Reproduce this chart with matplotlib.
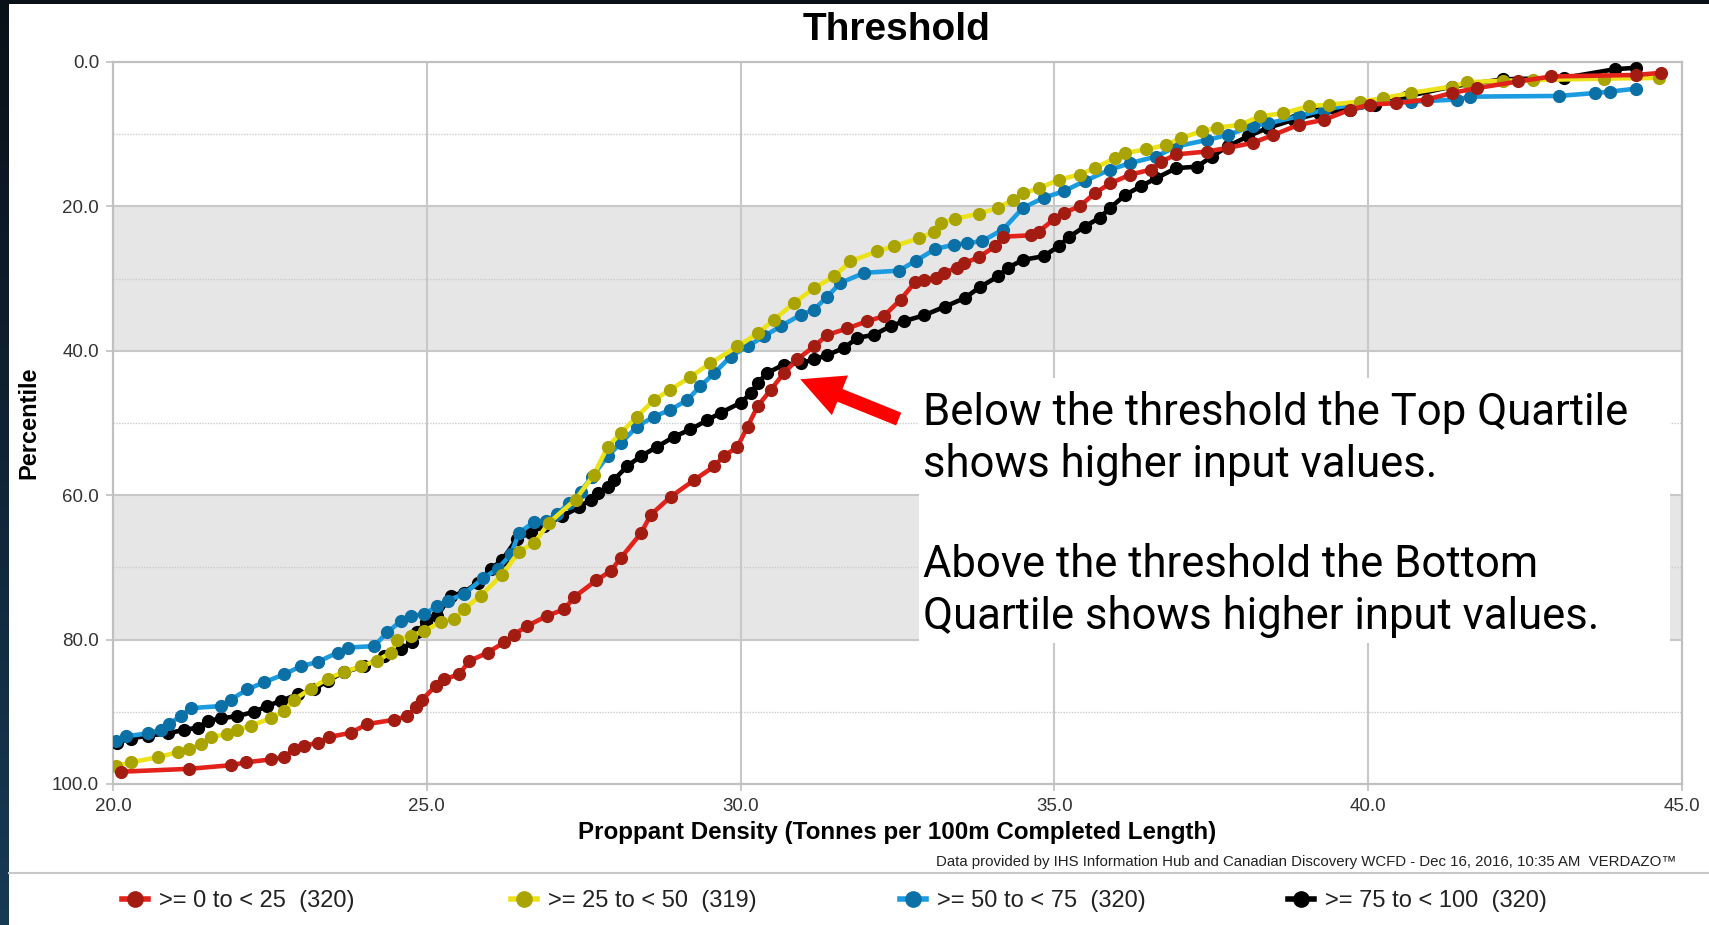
import numpy as np
import matplotlib
matplotlib.use('Agg')
import matplotlib.pyplot as plt
from matplotlib.lines import Line2D
from matplotlib.patches import Rectangle
from matplotlib.colors import LinearSegmentedColormap
from matplotlib.ticker import FormatStrFormatter, MultipleLocator

plt.rcParams['font.family'] = ['Liberation Sans', 'DejaVu Sans']

# Percentile curves (x = proppant density, y = percentile)
red_x = [20.12, 21.21, 21.88, 22.12, 22.51, 22.73, 22.89, 23.05, 23.26, 23.44, 23.79, 24.05,
         24.48, 24.69, 24.82, 24.93, 25.14, 25.28, 25.52, 25.67, 25.97, 26.23, 26.39, 26.60,
         26.92, 27.19, 27.35, 27.70, 27.93, 28.09, 28.41, 28.57, 28.89, 29.26, 29.58, 29.73,
         29.95, 30.11, 30.27, 30.48, 30.69, 30.90, 31.17, 31.38, 31.70, 32.02, 32.28, 32.55,
         32.78, 32.92, 33.12, 33.24, 33.45, 33.56, 33.80, 34.06, 34.18, 34.63, 34.75, 34.99,
         35.15, 35.40, 35.64, 35.89, 36.21, 36.54, 36.70, 36.94, 37.43, 37.76, 38.16, 38.49,
         38.89, 39.30, 39.71, 40.03, 40.44, 40.93, 41.33, 41.74, 42.39, 42.92, 44.26, 44.67]
red_y = [98.3, 97.9, 97.4, 97.0, 96.6, 96.3, 95.1, 94.7, 94.3, 93.5, 92.9, 91.7,
         91.1, 90.6, 89.4, 88.3, 86.4, 85.5, 84.8, 83.0, 81.8, 80.4, 79.3, 78.1,
         76.7, 75.8, 74.1, 71.8, 70.5, 68.7, 65.3, 62.7, 60.2, 57.9, 56.0, 54.6,
         53.3, 50.5, 47.7, 45.4, 43.1, 41.2, 39.4, 37.8, 36.9, 35.9, 35.2, 32.9,
         30.5, 30.2, 29.9, 29.2, 28.5, 27.9, 27.0, 25.5, 24.2, 24.0, 23.5, 21.8,
         20.9, 20.0, 18.2, 16.8, 15.6, 14.9, 13.8, 12.8, 12.4, 11.9, 11.2, 10.1,
         8.7, 8.0, 6.6, 5.9, 5.7, 5.2, 4.3, 3.6, 2.7, 2.0, 1.8, 1.5]

yellow_x = [20.04, 20.28, 20.71, 21.03, 21.21, 21.40, 21.56, 21.82, 21.98, 22.20, 22.51, 22.73,
            22.89, 23.15, 23.42, 23.68, 23.95, 24.21, 24.43, 24.53, 24.75, 24.96, 25.22, 25.44,
            25.59, 25.86, 26.20, 26.47, 26.71, 26.95, 27.37, 27.66, 27.88, 28.09, 28.35, 28.62,
            28.88, 29.20, 29.52, 29.95, 30.27, 30.53, 30.85, 31.17, 31.49, 31.75, 32.18, 32.44,
            32.85, 33.08, 33.20, 33.42, 33.80, 34.10, 34.34, 34.50, 34.75, 35.07, 35.40, 35.64,
            35.97, 36.13, 36.46, 36.78, 37.02, 37.35, 37.59, 37.96, 38.28, 38.65, 39.06, 39.38,
            39.87, 40.24, 40.68, 41.33, 41.58, 42.15, 42.63, 43.76, 44.63]
yellow_y = [97.5, 97.0, 96.3, 95.6, 95.2, 94.5, 93.5, 93.1, 92.5, 91.9, 90.9, 89.9,
            88.3, 86.8, 85.4, 84.5, 83.7, 82.9, 81.8, 80.0, 79.5, 78.8, 77.6, 77.1,
            75.8, 73.9, 71.0, 67.8, 66.6, 63.8, 60.6, 57.2, 53.3, 51.4, 49.1, 46.8,
            45.4, 43.6, 41.7, 39.4, 37.6, 35.7, 33.4, 31.3, 29.7, 27.6, 26.2, 25.5,
            24.4, 23.5, 22.3, 21.7, 21.0, 20.2, 19.1, 18.2, 17.5, 16.3, 15.6, 14.7,
            13.3, 12.6, 12.1, 11.5, 10.5, 9.6, 9.1, 8.7, 7.5, 7.1, 6.1, 5.9,
            5.5, 5.0, 4.3, 3.4, 2.8, 2.6, 2.5, 2.3, 2.2]

blue_x = [20.04, 20.20, 20.55, 20.76, 20.89, 21.08, 21.24, 21.72, 21.88, 22.14, 22.41, 22.73,
          22.99, 23.26, 23.58, 23.74, 24.16, 24.37, 24.59, 24.75, 24.96, 25.17, 25.33, 25.59,
          25.90, 26.13, 26.34, 26.47, 26.71, 26.90, 27.08, 27.26, 27.45, 27.63, 27.88, 28.09,
          28.35, 28.62, 28.88, 29.15, 29.36, 29.58, 29.84, 30.11, 30.37, 30.64, 30.96, 31.17,
          31.38, 31.59, 31.97, 32.52, 32.80, 33.10, 33.40, 33.61, 33.85, 34.18, 34.50, 34.83,
          35.15, 35.48, 35.89, 36.21, 36.62, 36.94, 37.43, 37.76, 38.16, 38.41, 38.89, 39.30,
          39.87, 40.68, 41.41, 41.62, 43.04, 43.61, 43.85, 44.26]
blue_y = [94.0, 93.4, 93.0, 92.5, 91.7, 90.6, 89.5, 89.2, 88.3, 86.9, 85.9, 84.8,
          83.7, 83.1, 81.8, 81.1, 80.9, 79.0, 77.4, 76.7, 76.5, 75.3, 74.6, 73.7,
          71.5, 70.2, 68.2, 65.2, 63.7, 63.6, 62.6, 61.1, 59.5, 57.5, 54.6, 52.8,
          50.5, 49.1, 48.2, 46.8, 44.9, 43.1, 40.8, 39.4, 38.0, 36.6, 35.0, 34.3,
          32.5, 30.6, 29.2, 28.9, 27.5, 25.9, 25.3, 25.1, 24.8, 23.2, 20.2, 18.8,
          17.9, 16.5, 14.9, 14.0, 13.1, 11.7, 10.8, 10.1, 8.9, 8.5, 7.5, 6.6,
          5.7, 5.5, 5.2, 4.8, 4.7, 4.3, 4.1, 3.7]

black_x = [20.07, 20.28, 20.55, 20.87, 21.13, 21.35, 21.51, 21.72, 21.98, 22.25, 22.46, 22.67,
           22.94, 23.20, 23.42, 23.68, 24.00, 24.32, 24.59, 24.77, 24.85, 24.98, 25.17, 25.38,
           25.59, 25.81, 26.02, 26.20, 26.44, 26.66, 26.87, 27.16, 27.42, 27.61, 27.72, 27.88,
           27.98, 28.19, 28.41, 28.67, 28.94, 29.20, 29.47, 29.68, 30.00, 30.16, 30.27, 30.42,
           30.69, 30.96, 31.17, 31.38, 31.65, 31.86, 32.12, 32.39, 32.60, 32.92, 33.25, 33.57,
           33.81, 34.10, 34.26, 34.50, 34.83, 35.07, 35.24, 35.48, 35.72, 35.89, 36.13, 36.38,
           36.62, 36.94, 37.27, 37.51, 37.76, 38.08, 38.41, 38.81, 39.22, 39.71, 40.11, 40.60,
           41.33, 42.15, 43.12, 43.93, 44.26]
black_y = [94.3, 93.7, 93.3, 93.0, 92.5, 92.2, 91.3, 90.9, 90.6, 90.0, 89.2, 88.5,
           87.6, 86.9, 85.7, 84.5, 83.7, 82.3, 81.3, 80.4, 79.0, 77.6, 76.7, 73.9,
           73.5, 72.1, 70.2, 69.0, 66.0, 65.2, 64.2, 62.9, 61.7, 60.6, 59.7, 58.9,
           57.9, 56.0, 54.6, 53.3, 51.9, 50.9, 49.6, 48.6, 47.2, 45.9, 44.5, 43.1,
           41.9, 41.7, 41.2, 40.6, 39.6, 38.2, 37.8, 36.6, 35.9, 35.1, 33.9, 32.7,
           31.2, 29.7, 28.5, 27.4, 26.9, 25.5, 24.2, 22.8, 21.6, 20.2, 18.4, 17.2,
           16.1, 14.7, 14.5, 13.1, 11.7, 10.3, 9.1, 8.0, 7.1, 6.6, 5.9, 4.8,
           3.4, 2.4, 2.2, 1.0, 0.8]

labels = ['>= 0 to < 25  (320)', '>= 25 to < 50  (319)',
          '>= 50 to < 75  (320)', '>= 75 to < 100  (320)']
line_colors = ['#e3231b', '#ece21a', '#1b9ce0', '#000000']
marker_colors = ['#a31c12', '#aaa400', '#0b70a6', '#000000']
series = [(red_x, red_y), (yellow_x, yellow_y), (blue_x, blue_y), (black_x, black_y)]

W, H = 1709, 925
fig = plt.figure(figsize=(W / 100, H / 100), dpi=100)
fig.patch.set_facecolor('white')

# dark frame around the slide
grad = np.linspace(0, 1, 256).reshape(-1, 1)
cmap = LinearSegmentedColormap.from_list('edge', ['#0a1018', '#102436', '#173a55'])
ax_edge = fig.add_axes([0, 0, 9 / W, 1])
ax_edge.imshow(grad, aspect='auto', cmap=cmap)
ax_edge.axis('off')
fig.add_artist(Rectangle((0, 1 - 4 / H), 1, 4 / H, transform=fig.transFigure,
                         color='#0a1018', lw=0))

ax = fig.add_axes([113 / W, 1 - 784 / H, 1569 / W, 722 / H])

# bands and grid
ax.axhspan(20, 40, color='#e6e6e6', lw=0, zorder=0)
ax.axhspan(60, 80, color='#e6e6e6', lw=0, zorder=0)
for yv in [20, 40, 60, 80]:
    ax.axhline(yv, color='#c8c8c8', lw=1.5, zorder=1)
for yv in [10, 30, 50, 70, 90]:
    ax.axhline(yv, color='#cccccc', lw=1, ls=(0, (1, 1)), zorder=1)
for xv in [25, 30, 35, 40]:
    ax.axvline(xv, color='#c8c8c8', lw=1.5, zorder=1)

# white box behind the note
ax.add_patch(Rectangle((32.84, 43.8), 11.97, 36.7, facecolor='white', lw=0, zorder=2))

handles = []
for i in [3, 2, 1, 0]:
    xs, ys = series[i]
    ax.plot(xs, ys, color=line_colors[i], lw=3.3, marker='o', ms=8.5,
            mfc=marker_colors[i], mec=marker_colors[i], zorder=5 + (3 - i))
for i in range(4):
    handles.append(Line2D([], [], color=line_colors[i], lw=4, marker='o', ms=11,
                          mfc=marker_colors[i], mec=marker_colors[i]))

ax.set_xlim(20, 45)
ax.set_ylim(100, 0)
ax.xaxis.set_major_locator(MultipleLocator(5))
ax.yaxis.set_major_locator(MultipleLocator(20))
ax.xaxis.set_major_formatter(FormatStrFormatter('%.1f'))
ax.yaxis.set_major_formatter(FormatStrFormatter('%.1f'))
ax.tick_params(length=5, width=1.2, color='#c0c0c0', labelsize=13.5,
               labelcolor='#333333', pad=5)
for sp in ax.spines.values():
    sp.set_color('#c0c0c0')
    sp.set_linewidth(1.6)

fig.text(897 / W, 1 - 30 / H, 'Threshold', ha='center', va='center',
         fontsize=28, fontweight='bold')
fig.text(897 / W, 1 - 832 / H, 'Proppant Density (Tonnes per 100m Completed Length)',
         ha='center', va='center', fontsize=17.4, fontweight='bold')
fig.text(29 / W, 1 - 423 / H, 'Percentile', ha='center', va='center',
         rotation=90, fontsize=17, fontweight='bold')
fig.text(1676 / W, 1 - 862 / H,
         'Data provided by IHS Information Hub and Canadian Discovery WCFD - '
         'Dec 16, 2016, 10:35 AM  VERDAZO\u2122',
         ha='right', va='center', fontsize=10.8, color='#222222')

fig.add_artist(Line2D([9 / W, 1], [1 - 873 / H, 1 - 873 / H], transform=fig.transFigure,
                      color='#c8c8c8', lw=1.5))

# legend entries in equal-width columns
for i, xpix in enumerate([122, 511, 900, 1288]):
    fig.legend(handles=[handles[i]], labels=[labels[i]], loc='center left',
               bbox_to_anchor=(xpix / W, 1 - 901 / H), frameon=False, fontsize=17,
               handlelength=1.1, handletextpad=0.45, borderpad=0, borderaxespad=0,
               labelcolor='#222222')

# annotation
note = ('Below the threshold the Top Quartile\nshows higher input values.\n\n'
        'Above the threshold the Bottom\nQuartile shows higher input values.')
fig.text(923 / W, 1 - 391 / H, note, ha='left', va='top', fontsize=31.4,
         family=['Roboto', 'DejaVu Sans'], linespacing=1.25, color='black')
ax.annotate('', xy=(30.91, 43.8), xytext=(32.56, 49.6),
            arrowprops=dict(arrowstyle='simple,head_length=1.4,head_width=1.4,tail_width=0.45',
                            color='#ff0000', lw=0, mutation_scale=22), zorder=12)

fig.savefig('out.png', dpi=100)
